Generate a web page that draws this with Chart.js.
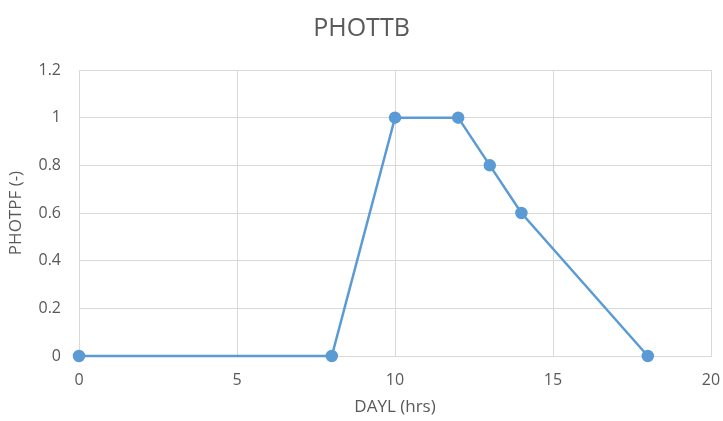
<!DOCTYPE html>
<html>
<head>
<meta charset="utf-8">
<script src="https://cdn.jsdelivr.net/npm/chart.js@4/dist/chart.umd.min.js"></script>
<style>
  html, body { margin: 0; padding: 0; background: #fff; }
  #wrap { width: 723px; height: 421px; }
</style>
</head>
<body>
<div id="wrap"><canvas id="chart"></canvas></div>
<script>
// DAYL (hrs) vs PHOTPF (-)
const daylHours = [0, 8, 10, 12, 13, 14, 18];
const photpfValues = [0, 0, 1, 1, 0.8, 0.6, 0];
const xTicks = [0, 5, 10, 15, 20];
const yTicks = [0, 0.2, 0.4, 0.6, 0.8, 1, 1.2];

document.addEventListener("DOMContentLoaded", () => {
  const ctx = document.getElementById("chart").getContext("2d");
  const points = daylHours.map((x, i) => ({ x: x, y: photpfValues[i] }));
  const textColor = "#595959";
  const gridColor = "#d9d9d9";
  const font = "'Open Sans', 'Liberation Sans', sans-serif";

  new Chart(ctx, {
    type: "scatter",
    data: {
      datasets: [{
        label: "PHOTTB",
        data: points,
        showLine: true,
        clip: false,
        borderColor: "#5b9bd5",
        backgroundColor: "#5b9bd5",
        borderWidth: 2.5,
        pointRadius: 5,
        pointHoverRadius: 5,
      }],
    },
    options: {
      responsive: true,
      maintainAspectRatio: false,
      animation: false,
      layout: { padding: { left: 0, right: 0, top: 0, bottom: 0 } },
      plugins: {
        legend: { display: false },
        tooltip: { enabled: false },
        title: {
          display: true,
          text: "PHOTTB",
          color: textColor,
          font: { family: font, size: 25, weight: "normal" },
          padding: { top: 14, bottom: 26 },
        },
      },
      scales: {
        x: {
          type: "linear",
          min: xTicks[0],
          max: xTicks[xTicks.length - 1],
          afterBuildTicks: s => { s.ticks = xTicks.map(v => ({ value: v })); },
          afterFit: s => { s.height = 65; s.paddingRight = 12; s.paddingLeft = 0; },
          grid: { color: gridColor, drawTicks: false },
          border: { color: gridColor },
          ticks: { color: textColor, font: { family: font, size: 16 }, padding: 15 },
          title: {
            display: true,
            text: "DAYL (hrs)",
            color: textColor,
            font: { family: font, size: 17 },
            padding: { top: 6 },
          },
        },
        y: {
          min: yTicks[0],
          max: yTicks[yTicks.length - 1],
          afterBuildTicks: s => { s.ticks = yTicks.map(v => ({ value: v })); },
          afterFit: s => { s.width = 79; },
          grid: { color: gridColor, drawTicks: false },
          border: { color: gridColor },
          ticks: {
            color: textColor,
            font: { family: font, size: 16 },
            padding: 18,
            callback: v => String(v),
          },
          title: {
            display: true,
            text: "PHOTPF (-)",
            color: textColor,
            font: { family: font, size: 17 },
            padding: { top: 6, bottom: 2 },
          },
        },
      },
    },
  });
});
</script>
</body>
</html>
